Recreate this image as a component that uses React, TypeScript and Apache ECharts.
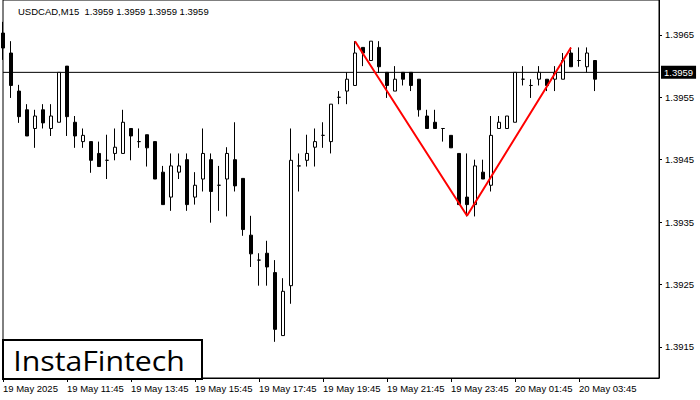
import React, { useEffect, useRef } from "react";
import * as echarts from "echarts";

// 15-minute candles, 19 May 2025 09:45 -> 20 May 2025 04:15
const opens = [
  1.39653, 1.39621, 1.3956, 1.3953, 1.395, 1.3953, 1.395, 1.3951, 1.396, 1.3951,
  1.39479, 1.39479, 1.3946, 1.39449, 1.3946, 1.3946, 1.395, 1.39479, 1.3949, 1.39479,
  1.3943, 1.3939, 1.3943, 1.3945, 1.3939, 1.39419, 1.3945, 1.39409, 1.39419, 1.3945,
  1.3942, 1.39329, 1.39289, 1.393, 1.39269, 1.39168, 1.39248, 1.3944, 1.39449, 1.3947,
  1.39489, 1.39479, 1.3955, 1.3956, 1.39569, 1.3963, 1.39609, 1.3963, 1.3959, 1.3956,
  1.3959, 1.3959, 1.39579, 1.3952, 1.3951, 1.395, 1.39489, 1.3946, 1.3939, 1.39378,
  1.3943, 1.39409, 1.395, 1.395, 1.3951, 1.39579, 1.39569, 1.39579, 1.39579, 1.39579,
  1.39579, 1.39621, 1.39609, 1.39599, 1.39609,
];
const closes = [
  1.39629, 1.39569, 1.39519, 1.39488, 1.3952, 1.39509, 1.3952, 1.3959, 1.39519, 1.39488,
  1.39489, 1.39449, 1.39439, 1.39449, 1.3947, 1.3951, 1.39488, 1.39479, 1.39469, 1.39419,
  1.39378, 1.3944, 1.3944, 1.39378, 1.39409, 1.3946, 1.39399, 1.39409, 1.3946, 1.39408,
  1.39338, 1.39299, 1.39289, 1.39278, 1.39178, 1.39239, 1.39449, 1.3944, 1.3946, 1.39479,
  1.39489, 1.39539, 1.3955, 1.39579, 1.39621, 1.39621, 1.3964, 1.39599, 1.39569, 1.39579,
  1.39579, 1.39569, 1.3953, 1.395, 1.395, 1.395, 1.39469, 1.39378, 1.39378, 1.3944,
  1.39419, 1.39489, 1.3951, 1.3952, 1.3959, 1.39579, 1.39569, 1.3959, 1.39569, 1.3959,
  1.39609, 1.39599, 1.39609, 1.39621, 1.39579,
];
const lows = [
  1.3961, 1.39549, 1.39509, 1.39488, 1.39469, 1.395, 1.39488, 1.3951, 1.39488, 1.39469,
  1.39469, 1.39429, 1.39439, 1.39419, 1.39449, 1.3946, 1.39449, 1.39469, 1.39439, 1.39419,
  1.39378, 1.39368, 1.39419, 1.39368, 1.39378, 1.39399, 1.39349, 1.39368, 1.39359, 1.39399,
  1.39328, 1.39278, 1.39248, 1.39248, 1.39158, 1.39168, 1.39219, 1.39399, 1.39439, 1.39439,
  1.39469, 1.3946, 1.39539, 1.39539, 1.39569, 1.396, 1.39609, 1.39589, 1.39549, 1.3956,
  1.39569, 1.3956, 1.39519, 1.395, 1.395, 1.39479, 1.39469, 1.39378, 1.39359, 1.39359,
  1.39419, 1.39399, 1.395, 1.395, 1.3951, 1.39569, 1.39549, 1.39569, 1.3956, 1.3956,
  1.39579, 1.39599, 1.39599, 1.3959, 1.3956,
];
const highs = [
  1.39671, 1.3964, 1.3957, 1.39539, 1.3953, 1.39539, 1.39539, 1.3959, 1.396, 1.3952,
  1.395, 1.39479, 1.39479, 1.3949, 1.395, 1.3953, 1.395, 1.395, 1.3949, 1.39479,
  1.3944, 1.3946, 1.3946, 1.3946, 1.3943, 1.395, 1.3946, 1.3944, 1.3947, 1.3951,
  1.3942, 1.3936, 1.393, 1.3932, 1.39289, 1.3926, 1.395, 1.3946, 1.3949, 1.395,
  1.3951, 1.39539, 1.3956, 1.3959, 1.3964, 1.3963, 1.3964, 1.3964, 1.3959, 1.396,
  1.3959, 1.3959, 1.39579, 1.3953, 1.3953, 1.395, 1.39489, 1.3946, 1.3946, 1.3945,
  1.3945, 1.3952, 1.3952, 1.3952, 1.3959, 1.396, 1.39579, 1.396, 1.39579, 1.396,
  1.39621, 1.3963, 1.3963, 1.3963, 1.39609,
];

// Double-top pattern drawn in red: high -> low -> high
const patternIdx = [44, 58, 71];
const patternVals = [1.3964, 1.3936, 1.3963];

const currentPrice = 1.3959;
const titleText = "USDCAD,M15  1.3959 1.3959 1.3959 1.3959";
const priceTicks = [1.3915, 1.3925, 1.3935, 1.3945, 1.3955, 1.3965];
const timeTickLabels = [
  "19 May 2025",
  "19 May 11:45",
  "19 May 13:45",
  "19 May 15:45",
  "19 May 17:45",
  "19 May 19:45",
  "19 May 21:45",
  "19 May 23:45",
  "20 May 01:45",
  "20 May 03:45",
];
const TICK_EVERY = 8;
const EMPTY_SLOTS = 8;

const FONT = "'Liberation Sans', Arial, sans-serif";

export default function App() {
  const ref = useRef<HTMLDivElement>(null);

  useEffect(() => {
    if (!ref.current) return;
    const chart = echarts.init(ref.current, undefined, { renderer: "svg" });

    const n = opens.length + EMPTY_SLOTS;
    const start = Date.UTC(2025, 4, 19, 9, 45);
    const categories: string[] = [];
    for (let i = 0; i < n; i++) {
      const d = new Date(start + i * 15 * 60000);
      const hh = String(d.getUTCHours()).padStart(2, "0");
      const mm = String(d.getUTCMinutes()).padStart(2, "0");
      categories.push(`${d.getUTCDate()} May ${hh}:${mm}`);
    }
    const candles = opens.map((o, i) => [o, closes[i], lows[i], highs[i]]);
    const redLine: (number | null)[] = categories.map(() => null);
    patternIdx.forEach((idx, k) => (redLine[idx] = patternVals[k]));
    // horizontal bid level across the whole plot
    const bidLevel = categories.map(() => currentPrice);

    const showTick = (index: number) =>
      index % TICK_EVERY === 0 && index / TICK_EVERY < timeTickLabels.length;

    chart.setOption({
      animation: false,
      backgroundColor: "#fff",
      title: {
        text: titleText,
        left: 13,
        top: 1,
        textStyle: { fontSize: 9.5, fontWeight: "normal", color: "#000", fontFamily: FONT },
      },
      grid: {
        left: 3,
        right: 41,
        top: 0,
        bottom: 22,
        show: true,
        borderColor: "#000",
        borderWidth: 1,
      },
      xAxis: {
        type: "category",
        data: categories,
        boundaryGap: false,
        axisLine: { show: true, lineStyle: { color: "#000", width: 1 } },
        axisTick: { show: true, interval: (i: number) => showTick(i), length: 4, lineStyle: { color: "#000" } },
        axisLabel: {
          interval: (i: number) => showTick(i),
          formatter: (_v: string, i: number) => timeTickLabels[i / TICK_EVERY] ?? "",
          align: "left",
          margin: 5,
          color: "#000",
          fontSize: 9.5,
          fontFamily: FONT,
        },
        splitLine: { show: false },
      },
      yAxis: {
        type: "value",
        position: "right",
        min: 1.391,
        max: 1.39706,
        axisLine: { show: true, lineStyle: { color: "#000", width: 1 } },
        axisTick: { show: true, customValues: priceTicks, length: 3, lineStyle: { color: "#000" } },
        axisLabel: {
          customValues: priceTicks,
          formatter: (v: number) => v.toFixed(4),
          margin: 6,
          color: "#000",
          fontSize: 9.5,
          fontFamily: FONT,
        },
        splitLine: { show: false },
      },
      series: [
        {
          type: "line",
          data: bidLevel,
          symbol: "none",
          silent: true,
          lineStyle: { color: "#000", width: 1 },
          z: 1,
          endLabel: {
            show: true,
            formatter: () => currentPrice.toFixed(4),
            backgroundColor: "#000",
            color: "#fff",
            padding: [2, 3, 1, 3],
            distance: 2,
            fontSize: 9.5,
            fontFamily: FONT,
          },
        },
        {
          type: "candlestick",
          data: candles,
          barWidth: 4,
          clip: false,
          itemStyle: {
            color: "#fff",
            color0: "#000",
            borderColor: "#000",
            borderColor0: "#000",
            borderColorDoji: "#000",
            borderWidth: 1,
          },
          z: 2,
        },
        {
          type: "line",
          data: redLine,
          connectNulls: true,
          symbol: "none",
          lineStyle: { color: "#ff0000", width: 2 },
          z: 4,
          silent: true,
        },
      ],
      graphic: [
        {
          type: "group",
          left: 2,
          top: 339,
          z: 100,
          children: [
            {
              type: "rect",
              shape: { x: 0, y: 0, width: 199, height: 39 },
              style: { fill: "#fff", stroke: "#000", lineWidth: 2 },
            },
            {
              type: "text",
              x: 96,
              y: 20,
              scaleX: 1.08,
              style: {
                text: "InstaFintech",
                fill: "#000",
                font: "28px 'Open Sans', sans-serif",
                textAlign: "center",
                textVerticalAlign: "middle",
              },
            },
          ],
        },
      ],
    });

    return () => chart.dispose();
  }, []);

  return (
    <div
      ref={ref}
      style={{ position: "fixed", left: 0, top: 0, width: 700, height: 400, background: "#fff" }}
    />
  );
}
